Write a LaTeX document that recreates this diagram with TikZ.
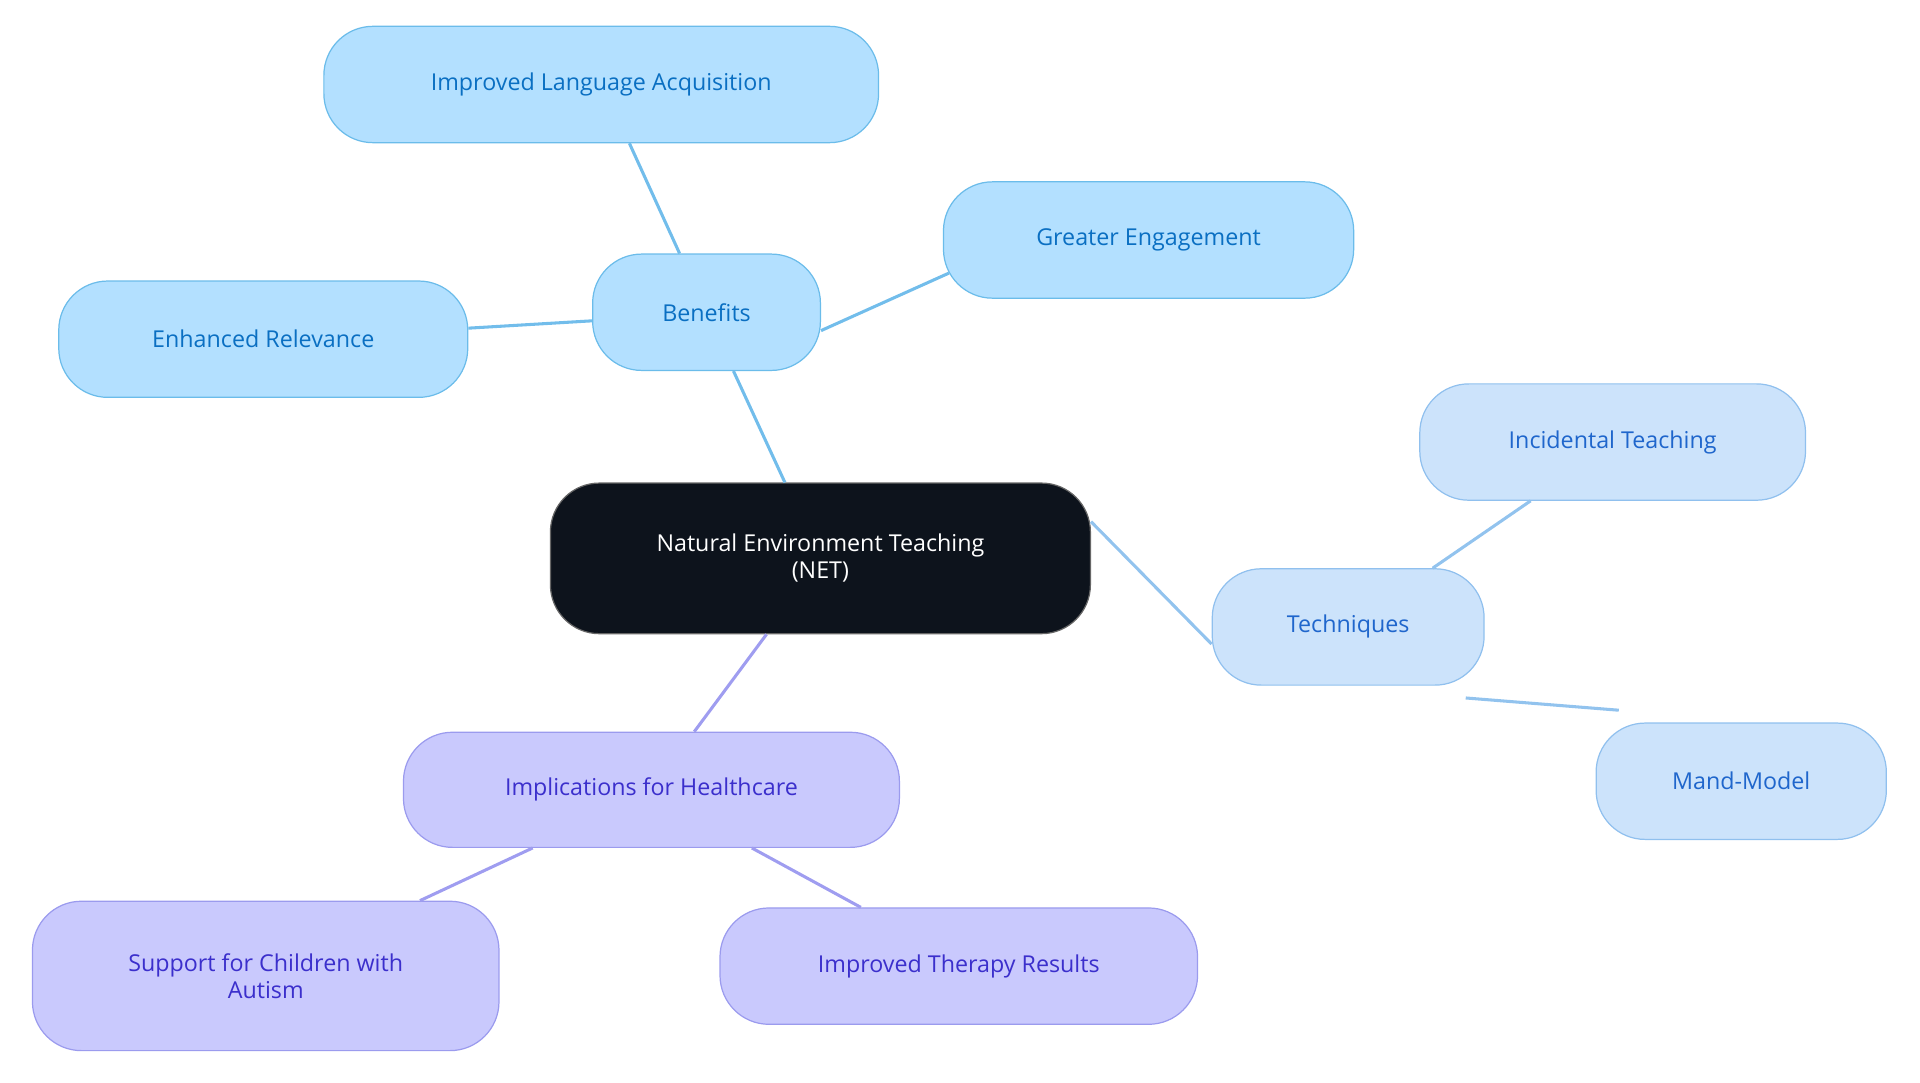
\documentclass[tikz,border=0pt]{standalone}
\usepackage{fontspec}
\setmainfont{Open Sans}
\definecolor{bfill}{HTML}{B3E0FF}\definecolor{bdraw}{HTML}{6BBCEA}\definecolor{btext}{HTML}{0A6FC2}
\definecolor{tfill}{HTML}{CCE3FB}\definecolor{tdraw}{HTML}{90C0EE}\definecolor{ttext}{HTML}{1F66CC}
\definecolor{pfill}{HTML}{C9C9FD}\definecolor{pdraw}{HTML}{9B9BEE}\definecolor{ptext}{HTML}{3B2FCC}
\definecolor{nfill}{HTML}{0D131C}
\definecolor{eb}{HTML}{72BDEB}\definecolor{et}{HTML}{92C3EE}\definecolor{ep}{HTML}{9F9DF0}
\tikzset{
 box/.style={rounded corners=40pt,line width=1pt,align=center,font=\fontsize{19}{22}\selectfont,inner sep=0pt},
 bnode/.style={box,fill=bfill,draw=bdraw,text=btext},
 tnode/.style={box,fill=tfill,draw=tdraw,text=ttext},
 pnode/.style={box,fill=pfill,draw=pdraw,text=ptext},
 rnode/.style={box,fill=nfill,draw=black!60,text=white},
 be/.style={draw=eb,line width=2.5pt},
 te/.style={draw=et,line width=2.5pt},
 pe/.style={draw=ep,line width=2.5pt},
}
\begin{document}
\begin{tikzpicture}[x=1pt,y=-1pt]
\useasboundingbox (0,0) rectangle (1568,884);
\node[rnode,minimum width=441,minimum height=123] (net) at (670,456) {Natural Environment Teaching\\(NET)};
\node[bnode,minimum width=186,minimum height=95] (ben) at (577,255) {Benefits};
\node[bnode,minimum width=453,minimum height=95] (ila) at (491,69) {Improved Language Acquisition};
\node[bnode,minimum width=335,minimum height=95] (ge) at (938,196) {Greater Engagement};
\node[bnode,minimum width=334,minimum height=95] (er) at (215,277) {Enhanced Relevance};
\node[tnode,minimum width=222,minimum height=95] (tec) at (1101,512) {Techniques};
\node[tnode,minimum width=315,minimum height=95] (it) at (1317,361) {Incidental Teaching};
\node[tnode,minimum width=237,minimum height=95] (mm) at (1422,638) {Mand-Model};
\node[pnode,minimum width=405,minimum height=94] (ih) at (532,645) {Implications for Healthcare};
\node[pnode,minimum width=381,minimum height=122] (sc) at (217,797) {Support for Children with\\Autism};
\node[pnode,minimum width=390,minimum height=95] (itr) at (783,789) {Improved Therapy Results};
\draw[be] ([xshift=-29pt]net.north) -- ([xshift=22pt]ben.south);
\draw[be] ([xshift=-22pt]ben.north) -- ([xshift=23pt]ila.south);
\draw[be] ([yshift=-15pt]ben.east) -- ([yshift=-27pt,xshift=5pt]ge.west);
\draw[be] ([yshift=-7pt]ben.west) -- ([yshift=9pt]er.east);
\draw[te] ([yshift=30pt]net.east) -- ([yshift=-14pt]tec.west);
\draw[te] ([xshift=69pt]tec.north) -- ([xshift=-67pt]it.south);
\draw[te] ([xshift=96pt,yshift=-10pt]tec.south) -- ([xshift=-100pt,yshift=10pt]mm.north);
\draw[pe] ([xshift=-44pt]net.south) -- ([xshift=35pt]ih.north);
\draw[pe] ([xshift=-97pt]ih.south) -- ([xshift=126pt]sc.north);
\draw[pe] ([xshift=82pt]ih.south) -- ([xshift=-80pt]itr.north);
\end{tikzpicture}
\end{document}
